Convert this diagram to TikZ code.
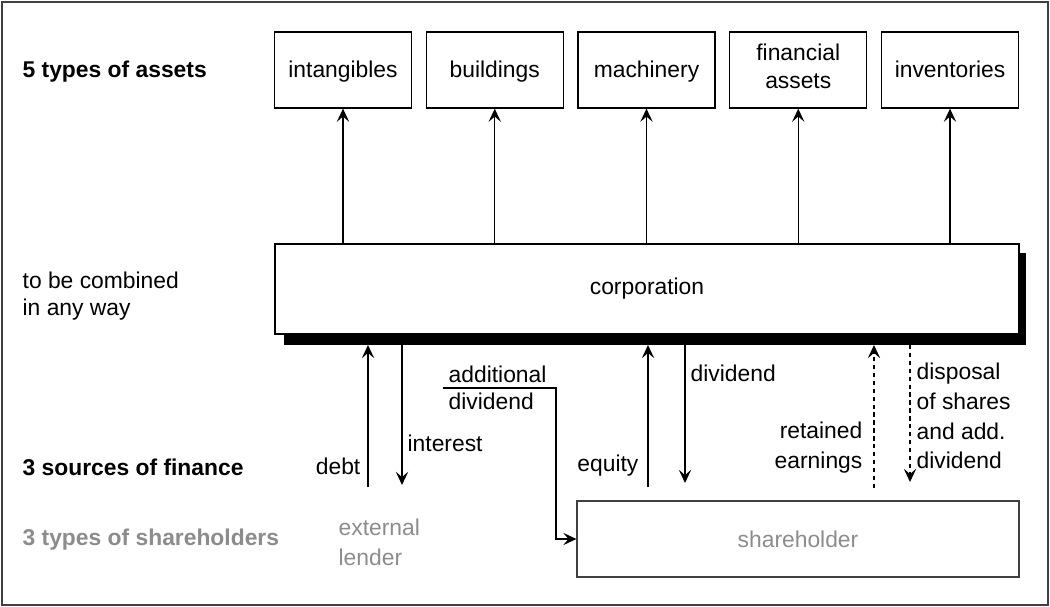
\documentclass[tikz,border=0pt]{standalone}
\usepackage{fontspec}
\setmainfont{Liberation Sans}
\usetikzlibrary{arrows.meta}

\begin{document}
\begin{tikzpicture}[x=0.02cm, y=-0.02cm, font=\fontsize{13}{17}\selectfont, line width=0.75pt,
    >={Stealth[length=7.5pt, width=7pt, inset=3pt]},
    asset/.style={draw, minimum width=2.74cm, minimum height=1.52cm, align=center, inner sep=0pt,
      font=\fontsize{13}{16}\selectfont,
      execute at begin node=\rule[-4pt]{0pt}{16pt}, execute at end node=\rule[-4pt]{0pt}{16pt}},
    lbl/.style={inner sep=0pt, align=left},
    pale/.style={black!45},
    flow/.style={dash pattern=on 2.5pt off 2pt}]
  \useasboundingbox (0,0) rectangle (1050,607);
  \draw[black!75, line width=1.2pt] (2,2) rectangle (1048,605);

  % left hand labels
  \node[lbl, anchor=west, font=\fontsize{13}{17}\selectfont\bfseries] (assetslbl) at (22,72) {5 types of assets};
  \node[lbl, anchor=west, font=\fontsize{13}{15}\selectfont] (combinedlbl) at (22,296) {to be combined\\in any way};
  \node[lbl, anchor=west, font=\fontsize{13}{17}\selectfont\bfseries] (financelbl) at (22,467) {3 sources of finance};
  \node[lbl, anchor=west, pale, font=\fontsize{13}{17}\selectfont\bfseries] (holderslbl) at (22,540) {3 types of shareholders};

  % assets
  \foreach \name/\txt [count=\i from 0] in {intangibles/intangibles, buildings/buildings, machinery/machinery, financial/{financial\\assets}, inventories/inventories}
    \node[asset] (\name) at ({343+151.75*\i},70) {\txt};

  % corporation with its shadow
  \fill (284,253) rectangle (1026,345);
  \node[draw, fill=white, minimum width=14.88cm, minimum height=1.8cm] (corp) at (647,289) {corporation};
  \coordinate (sb) at (0,345);

  \foreach \name in {intangibles, buildings, machinery, financial, inventories}
    \draw[->] (corp.north -| \name.south) -- (\name.south);

  % shareholders
  \node[draw, black!75, minimum width=8.84cm, minimum height=1.52cm] (holder) at (798,539) {};
  \node[pale] at (holder) {shareholder};
  \node[lbl, pale, anchor=west] (lender) at (338,542) {external\\lender};

  % flows of finance
  \coordinate (debt) at (368,487);
  \coordinate (interest) at (402,485);
  \coordinate (equity) at (648,487);
  \coordinate (dividend) at (685,483);
  \coordinate (retained) at (874,488);
  \coordinate (disposal) at (910,482);
  \coordinate (adddiv) at (443,388);

  \draw[->] (debt) -- (debt |- sb);
  \draw[->] (interest |- sb) -- (interest);
  \draw[->] (equity) -- (equity |- sb);
  \draw[->] (dividend |- sb) -- (dividend);
  \draw[->, flow] (retained) -- (retained |- sb);
  \draw[->, flow] (disposal |- sb) -- (disposal);
  \draw[->] (adddiv) -- (556,388) |- (holder.west);

  \node[lbl, anchor=east] (debtlbl) at (361,466) {debt};
  \node[lbl, anchor=west] (interestlbl) at (407,443) {interest};
  \node[lbl, anchor=south west] (addlbl) at (448,383) {additional};
  \node[lbl, anchor=north west] (divlbl) at (448,392) {dividend};
  \node[lbl, anchor=east] (equitylbl) at (639,466) {equity};
  \node[lbl, anchor=west] (dividendlbl) at (690,373) {dividend};
  \node[lbl, anchor=east, align=right] (retainedlbl) at (863,448) {retained\\earnings};
  \node[lbl, anchor=west] (disposallbl) at (916,416) {disposal\\of shares\\and add.\\dividend};
\end{tikzpicture}
\end{document}
